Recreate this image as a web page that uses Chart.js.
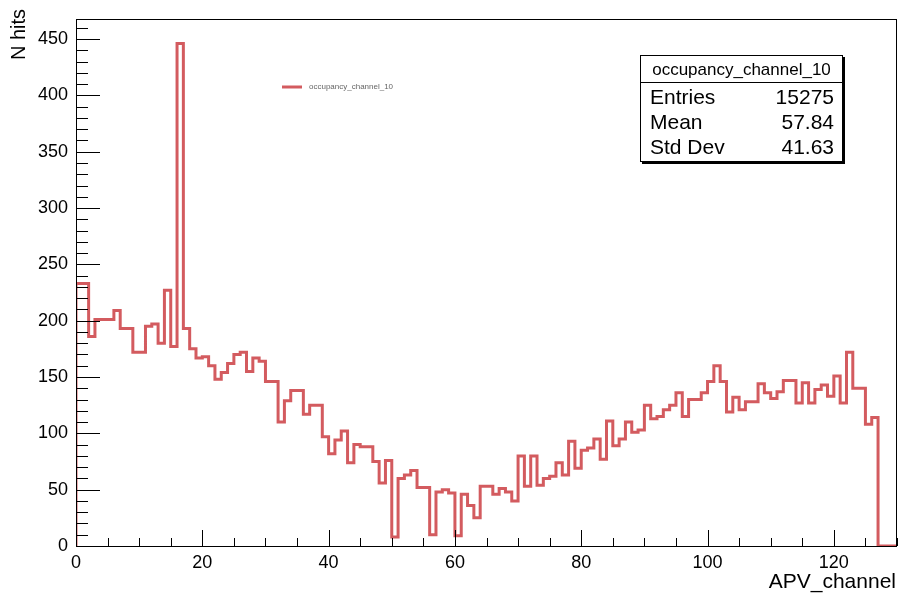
<!DOCTYPE html>
<html>
<head>
<meta charset="utf-8">
<script src="https://cdn.jsdelivr.net/npm/chart.js@4.4.1/dist/chart.umd.min.js"></script>
<style>
    html, body { margin: 0; padding: 0; background: #ffffff; }
    #wrap { width: 899px; height: 593px; }
</style>
</head>
<body>
<div id="wrap"><canvas id="histChart" width="899" height="593"></canvas></div>
<script>
    // counts per APV channel, bins are 1 wide starting at 0
    const channelCounts = [
        233, 233, 186, 201, 201, 201, 209, 193, 193, 172,
        172, 195, 197, 180, 227, 177, 446, 193, 175, 167,
        168, 160, 148, 154, 162, 170, 172, 155, 167, 164,
        146, 146, 110, 129, 138, 138, 117, 125, 125, 97,
        82, 94, 102, 74, 90, 88, 88, 75, 56, 76,
        8, 60, 63, 67, 52, 52, 10, 48, 50, 47,
        9, 46, 36, 25, 53, 53, 46, 51, 48, 40,
        80, 53, 80, 54, 60, 62, 74, 63, 93, 69,
        85, 87, 95, 77, 111, 89, 95, 110, 101, 103,
        125, 113, 115, 121, 125, 136, 115, 130, 130, 136,
        146, 160, 146, 119, 132, 121, 128, 128, 144, 136,
        131, 137, 147, 147, 127, 145, 127, 139, 143, 133,
        151, 127, 172, 140, 140, 108, 114, 0, 0, 0
    ];
    const xTickLabels = [0, 20, 40, 60, 80, 100, 120];
    const yTickLabels = [0, 50, 100, 150, 200, 250, 300, 350, 400, 450];
    const xRange = [0, 130];
    const yRange = [0, 468];

    const histName = "occupancy_channel_10";
    const statNames = ["Entries", "Mean", "Std Dev"];
    const statValues = ["15275", "57.84", "41.63"];

    const xTitle = "APV_channel";
    const yTitle = "N hits";

    const lineColor = "#d35b5f";
    const fontFamily = "'Liberation Sans', Arial, sans-serif";

    // outline of the histogram: start at 0, one point per bin edge
    function buildOutline(counts) {
        const pts = [{ x: 0, y: 0 }];
        for (let i = 0; i < counts.length; i++) {
            pts.push({ x: i, y: counts[i] });
        }
        pts.push({ x: counts.length, y: counts[counts.length - 1] });
        return pts;
    }

    // ROOT style: frame, ticks inside, titles, legend and stats box
    const rootDecor = {
        id: "rootDecor",
        afterDatasetsDraw(chart) {
            const ctx = chart.ctx;
            const area = chart.chartArea;
            const xs = chart.scales.x;
            const ys = chart.scales.y;

            ctx.save();
            ctx.strokeStyle = "#000";
            ctx.lineWidth = 1;
            ctx.strokeRect(Math.round(area.left) + 0.5, Math.round(area.top) + 0.5,
                Math.round(area.right - area.left) - 1, Math.round(area.bottom - area.top));

            // x ticks every 5, long every 20
            ctx.beginPath();
            for (let v = xRange[0]; v <= xRange[1]; v += 5) {
                const px = Math.round(xs.getPixelForValue(v)) + 0.5;
                const len = (v % 20 === 0) ? 16 : 8;
                ctx.moveTo(px, area.bottom);
                ctx.lineTo(px, area.bottom - len);
            }
            // y ticks every 10, long every 50
            for (let v = yRange[0]; v <= yRange[1]; v += 10) {
                const py = Math.round(ys.getPixelForValue(v)) + 0.5;
                const len = (v % 50 === 0) ? 24 : 12;
                ctx.moveTo(area.left, py);
                ctx.lineTo(area.left + len, py);
            }
            ctx.stroke();

            // axis titles
            ctx.fillStyle = "#000";
            ctx.font = "21px " + fontFamily;
            ctx.textAlign = "right";
            ctx.textBaseline = "middle";
            ctx.fillText(xTitle, 896, 582);

            ctx.save();
            ctx.translate(19, 9);
            ctx.rotate(-Math.PI / 2);
            ctx.font = "20px " + fontFamily;
            ctx.textAlign = "right";
            ctx.fillText(yTitle, 0, 0);
            ctx.restore();

            // legend entry
            ctx.strokeStyle = lineColor;
            ctx.lineWidth = 3;
            ctx.beginPath();
            ctx.moveTo(282, 87);
            ctx.lineTo(302, 87);
            ctx.stroke();
            ctx.fillStyle = "#666";
            ctx.font = "8px " + fontFamily;
            ctx.textAlign = "left";
            ctx.fillText(histName, 309, 87);

            // stats box with shadow
            const bx = 640, by = 55, bw = 203, bh = 107;
            ctx.fillStyle = "#000";
            ctx.fillRect(bx + 2, by + 2, bw, bh);
            ctx.fillStyle = "#fff";
            ctx.fillRect(bx, by, bw, bh);
            ctx.strokeStyle = "#000";
            ctx.lineWidth = 1;
            ctx.strokeRect(bx + 0.5, by + 0.5, bw - 1, bh - 1);
            ctx.beginPath();
            ctx.moveTo(bx, by + 27.5);
            ctx.lineTo(bx + bw, by + 27.5);
            ctx.stroke();

            ctx.fillStyle = "#000";
            ctx.font = "17px " + fontFamily;
            ctx.textAlign = "center";
            ctx.fillText(histName, bx + bw / 2, by + 15);

            ctx.font = "21px " + fontFamily;
            for (let i = 0; i < statNames.length; i++) {
                const ty = by + 43 + i * 25;
                ctx.textAlign = "left";
                ctx.fillText(statNames[i], bx + 10, ty);
                ctx.textAlign = "right";
                ctx.fillText(statValues[i], bx + bw - 9, ty);
            }
            ctx.restore();
        }
    };

    function makeTicks(list) {
        return function (scale) {
            scale.ticks = list.map(v => ({ value: v }));
        };
    }

    document.addEventListener("DOMContentLoaded", function () {
        const ctx = document.getElementById("histChart").getContext("2d");

        window.histChart = new Chart(ctx, {
            type: "line",
            data: {
                datasets: [{
                    label: histName,
                    data: buildOutline(channelCounts),
                    stepped: true,
                    borderColor: lineColor,
                    borderWidth: 3,
                    pointRadius: 0,
                    fill: false
                }]
            },
            options: {
                responsive: false,
                animation: false,
                devicePixelRatio: 1,
                layout: { padding: { top: 11, right: 2, left: 0, bottom: 0 } },
                plugins: {
                    legend: { display: false },
                    tooltip: { enabled: false }
                },
                scales: {
                    x: {
                        type: "linear",
                        min: xRange[0],
                        max: xRange[1],
                        grid: { display: false, drawTicks: false },
                        border: { display: false },
                        afterBuildTicks: makeTicks(xTickLabels),
                        afterFit: function (s) { s.height = 47; },
                        ticks: {
                            color: "#000",
                            padding: 6,
                            maxRotation: 0,
                            font: { family: fontFamily, size: 18 }
                        }
                    },
                    y: {
                        type: "linear",
                        min: yRange[0],
                        max: yRange[1],
                        grid: { display: false, drawTicks: false },
                        border: { display: false },
                        afterBuildTicks: makeTicks(yTickLabels),
                        afterFit: function (s) { s.width = 76; },
                        ticks: {
                            color: "#000",
                            padding: 8,
                            font: { family: fontFamily, size: 18 }
                        }
                    }
                }
            },
            plugins: [rootDecor]
        });
    });
</script>
</body>
</html>
